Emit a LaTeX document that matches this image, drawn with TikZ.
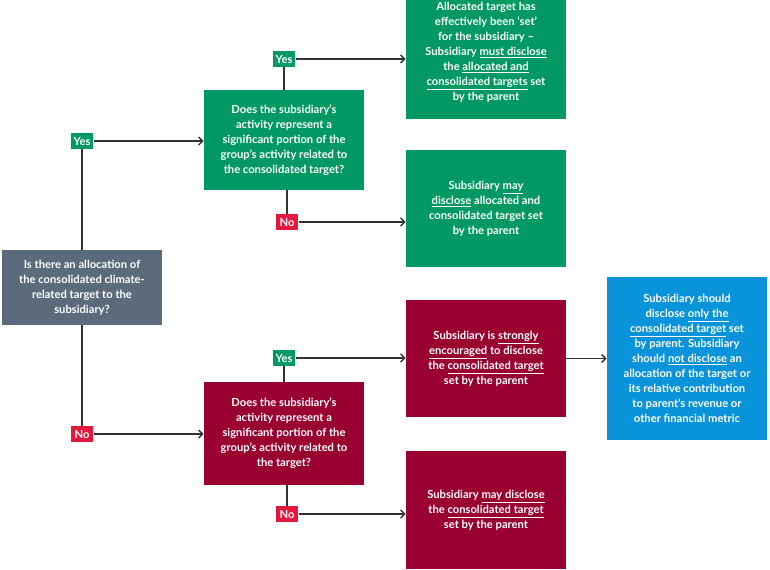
\documentclass[tikz,border=0pt]{standalone}
\usepackage{fontspec}
\setmainfont{Lato}
\usetikzlibrary{arrows.meta}
\definecolor{qgreen}{HTML}{009964}
\definecolor{qred}{HTML}{990031}
\definecolor{qgrey}{HTML}{5B6B7C}
\definecolor{qblue}{HTML}{0993DA}
\definecolor{tagred}{HTML}{E4173E}
\definecolor{lnk}{HTML}{333333}
\tikzset{
  box/.style={fill=#1, text=white, font=\bfseries\fontsize{8.4}{11.2}\selectfont, align=center, inner sep=0pt},
  tag/.style={fill=#1, text=white, font=\bfseries\fontsize{8.4}{10}\selectfont, inner sep=2pt, minimum width=17pt, minimum height=12pt},
  link/.style={draw=lnk, line width=1.1pt},
  arr/.style={link, -{Straight Barb[length=3pt,width=6pt]}}
}
\newcommand{\ul}[1]{\underline{#1}}
\begin{document}
\begin{tikzpicture}[x=0.75pt, y=-0.75pt]
		\useasboundingbox (0,0) rectangle (770,570);
		% boxes
		\node [box=qgrey, minimum width=120pt, minimum height=56pt] (q0) at (82,287.5) {Is there an allocation of\\the consolidated climate-\\related target to the\\subsidiary?};
		\node [box=qgreen, minimum width=120pt, minimum height=75pt] (qa) at (284,140) {Does the subsidiary’s\\activity represent a\\significant portion of the\\group’s activity related to\\the consolidated target?};
		\node [box=qred, minimum width=120pt, minimum height=77pt] (qb) at (284,433.5) {Does the subsidiary’s\\activity represent a\\significant portion of the\\group’s activity related to\\the target?};
		\node [box=qgreen, minimum width=120pt, minimum height=100pt] (ra) at (486,52) {Allocated target has\\effectively been ‘set’\\for the subsidiary –\\Subsidiary \ul{must disclose}\\the \ul{allocated and}\\\ul{consolidated targets} set\\by the parent};
		\node [box=qgreen, minimum width=120pt, minimum height=88pt] (rb) at (486,208.5) {Subsidiary \ul{may}\\\ul{disclose} allocated and\\consolidated target set\\by the parent};
		\node [box=qred, minimum width=120pt, minimum height=88pt] (rc) at (486,358.5) {Subsidiary is \ul{strongly}\\\ul{encouraged} to disclose\\the \ul{consolidated target}\\set by the parent};
		\node [box=qred, minimum width=120pt, minimum height=88pt] (rd) at (486,510) {Subsidiary \ul{may disclose}\\the \ul{consolidated target}\\set by the parent};
		\node [box=qblue, minimum width=120pt, minimum height=122pt] (re) at (687,358.5) {Subsidiary should\\disclose \ul{only the}\\\ul{consolidated target} set\\by parent. Subsidiary\\should \ul{not disclose} an\\allocation of the target or\\its relative contribution\\to parent’s revenue or\\other financial metric};
		% tags
		\node [tag=qgreen] (ty0) at (82,141) {Yes};
		\node [tag=tagred] (tn0) at (82,434) {No};
		\node [tag=qgreen] (tya) at (284,59) {Yes};
		\node [tag=tagred] (tna) at (287,222) {No};
		\node [tag=qgreen] (tyb) at (284,358) {Yes};
		\node [tag=tagred] (tnb) at (287,514) {No};
		% connectors
		\draw [link] (q0.north) -- (ty0);
		\draw [arr] (ty0) -- (qa.west |- ty0);
		\draw [link] (q0.south) -- (tn0);
		\draw [arr] (tn0) -- (qb.west |- tn0);
		\draw [link] (qa.north) -- (tya);
		\draw [arr] (tya) -- (ra.west |- tya);
		\draw [link] (qa.south -| tna) -- (tna);
		\draw [arr] (tna) -- (rb.west |- tna);
		\draw [link] (qb.north) -- (tyb);
		\draw [arr] (tyb) -- (rc.west |- tyb);
		\draw [link] (qb.south -| tnb) -- (tnb);
		\draw [arr] (tnb) -- (rd.west |- tnb);
		\draw [arr] (rc.east) -- (re.west |- rc.east);
	\end{tikzpicture}
\end{document}
